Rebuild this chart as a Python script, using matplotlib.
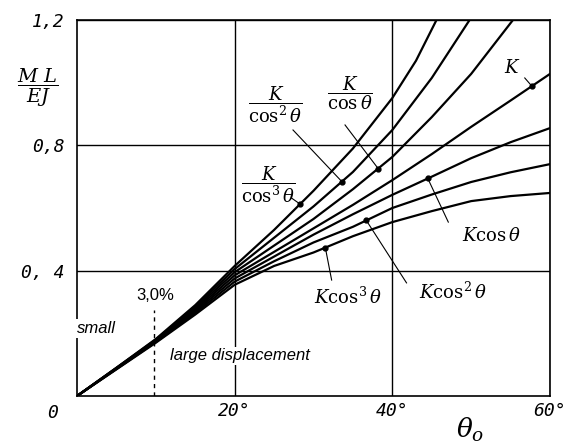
import numpy as np
import matplotlib
matplotlib.use("Agg")
import matplotlib.pyplot as plt

plt.rcParams['mathtext.fontset'] = 'dejavuserif'

# angle (deg) / ML/EJ values, one pair of lists per curve
th_k_cos3 = [0, 5, 10, 15, 20, 25, 30, 35, 40, 43, 45.6]
v_k_cos3 = [0, 0.09, 0.182, 0.29, 0.415, 0.53, 0.655, 0.79, 0.951, 1.07, 1.2]

th_k_cos2 = [0, 5, 10, 15, 20, 25, 30, 35, 40, 45, 49.8]
v_k_cos2 = [0, 0.09, 0.18, 0.285, 0.405, 0.505, 0.605, 0.715, 0.849, 1.015, 1.2]

th_k_cos1 = [0, 5, 10, 15, 20, 25, 30, 35, 40, 45, 50, 55.3]
v_k_cos1 = [0, 0.089, 0.178, 0.28, 0.395, 0.48, 0.565, 0.66, 0.763, 0.89, 1.028, 1.2]

th_full = [0, 5, 10, 15, 20, 25, 30, 35, 40, 45, 50, 55, 60]
v_k = [0, 0.088, 0.176, 0.275, 0.385, 0.46, 0.535, 0.61, 0.689, 0.772, 0.859, 0.943, 1.028]
v_kcos1 = [0, 0.087, 0.174, 0.27, 0.375, 0.445, 0.515, 0.58, 0.642, 0.70, 0.759, 0.81, 0.855]
v_kcos2 = [0, 0.086, 0.172, 0.265, 0.365, 0.43, 0.49, 0.54, 0.600, 0.643, 0.683, 0.714, 0.740]
v_kcos3 = [0, 0.085, 0.17, 0.26, 0.355, 0.415, 0.458, 0.51, 0.555, 0.59, 0.622, 0.638, 0.648]

x_ticks = [20, 40, 60]
x_ticklabels = ['20°', '40°', '60°']
y_ticks = [0.4, 0.8, 1.2]
y_ticklabels = ['0, 4', '0,8', '1,2']

# (curve, label, label pos, leader start, dot angle)
curves = [
    (th_k_cos3, v_k_cos3, r'$\dfrac{K}{\cos^3\theta}$', (24.2, 0.673), (27.2, 0.632), 28.3),
    (th_k_cos2, v_k_cos2, r'$\dfrac{K}{\cos^2\theta}$', (25.1, 0.929), (27.4, 0.849), 33.6),
    (th_k_cos1, v_k_cos1, r'$\dfrac{K}{\cos\theta}$', (34.6, 0.967), (34.0, 0.865), 38.2),
    (th_full, v_k, r'$K$', (55.2, 1.047), (56.8, 1.015), 57.7),
    (th_full, v_kcos1, r'$K\cos\theta$', (52.6, 0.51), (47.1, 0.555), 44.5),
    (th_full, v_kcos2, r'$K\cos^2\theta$', (47.7, 0.332), (41.8, 0.361), 36.7),
    (th_full, v_kcos3, r'$K\cos^3\theta$', (34.4, 0.316), (32.3, 0.370), 31.5),
]

fig = plt.figure(figsize=(5.77, 4.48), dpi=100)
ax = fig.add_axes([77 / 577, 52 / 448, 473 / 577, 376 / 448])

for th, v, label, lpos, lstart, dot_th in curves:
    ax.plot(th, v, color='black', lw=1.6, solid_capstyle='round')
    dot_v = np.interp(dot_th, th, v)
    ax.plot([lstart[0], dot_th], [lstart[1], dot_v], color='black', lw=0.8)
    ax.plot(dot_th, dot_v, 'o', color='black', ms=3.5)
    ax.text(lpos[0], lpos[1], label, fontsize=13, ha='center', va='center')

# small / large displacement boundary
ax.plot([9.8, 9.8], [0, 0.274], color='black', lw=1, ls=(0, (3, 3)))
ax.text(9.9, 0.322, '3,0%', fontsize=12, family='Liberation Sans', ha='center', va='center')
ax.text(0.0, 0.214, 'small', fontsize=12, family='Liberation Sans', style='italic',
        ha='left', va='center', bbox=dict(fc='white', ec='none', pad=1.5), zorder=5)
ax.text(11.8, 0.128, 'large displacement', fontsize=12, family='Liberation Sans',
        style='italic', ha='left', va='center', bbox=dict(fc='white', ec='none', pad=1.0), zorder=5)

ax.set_xlim(0, 60)
ax.set_ylim(0, 1.2)
ax.set_xticks(x_ticks)
ax.set_xticklabels(x_ticklabels, family='DejaVu Sans Mono', style='italic', fontsize=13)
ax.set_yticks(y_ticks)
ax.set_yticklabels(y_ticklabels, family='DejaVu Sans Mono', style='italic', fontsize=13)
ax.tick_params(length=0, pad=4)
ax.tick_params(axis='y', pad=9)
ax.grid(True, color='black', lw=1)
for s in ax.spines.values():
    s.set_linewidth(1.2)

ax.text(-0.04, -0.02, '0', transform=ax.transAxes, family='DejaVu Sans Mono',
        style='italic', fontsize=13, ha='right', va='top')

fig.text(38 / 577, 1 - 88 / 448, r'$\dfrac{M\ L}{E J}$', fontsize=14, ha='center', va='center')
fig.text(470 / 577, 1 - 416 / 448, r'$\theta_o$', fontsize=19, ha='center', va='top')

fig.savefig('out.png', dpi=100)
